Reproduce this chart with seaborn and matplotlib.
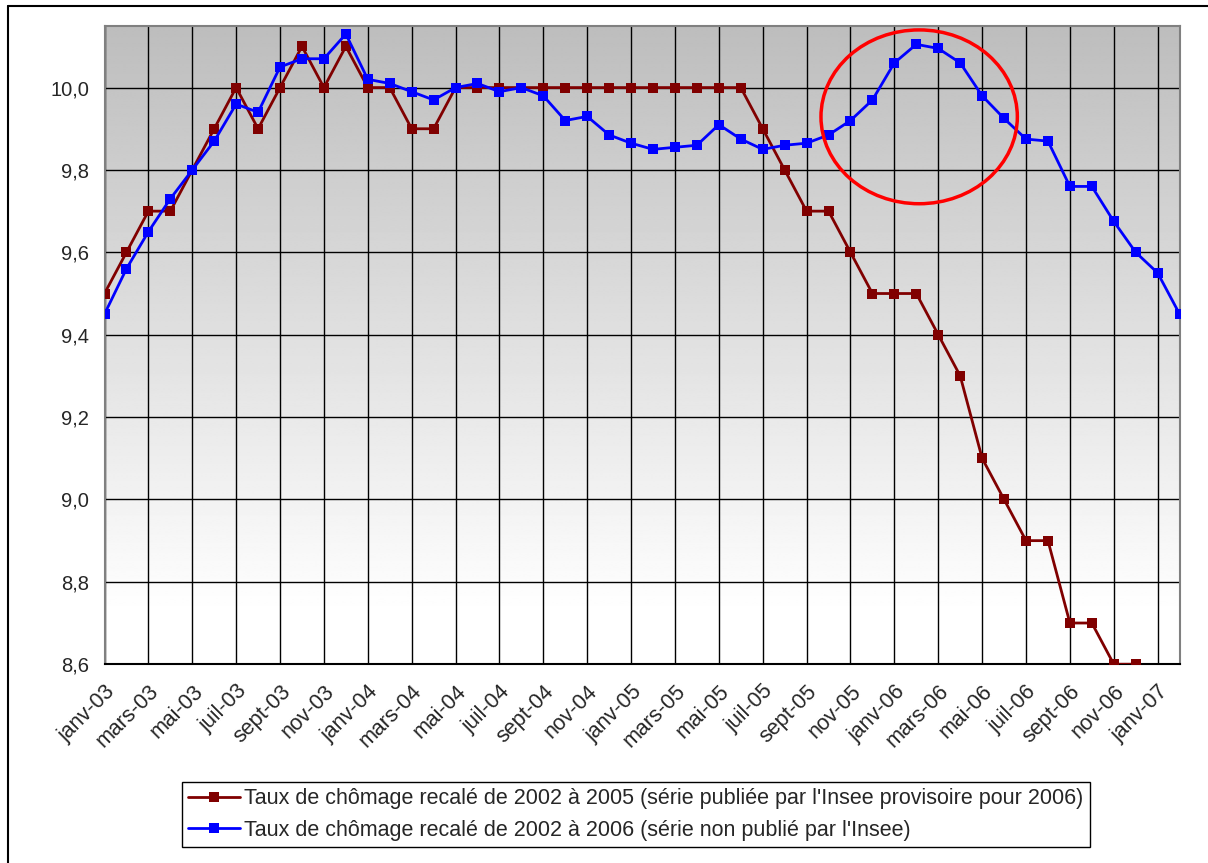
import numpy as np
import matplotlib
matplotlib.use("Agg")
import matplotlib.pyplot as plt
import pandas as pd
import seaborn as sns
from matplotlib.patches import Ellipse
from matplotlib.lines import Line2D

sns.set_style("white")
plt.rcParams['font.family'] = ['Liberation Sans', 'DejaVu Sans']

# mois de janv-03 a fevr-07
mois = pd.date_range("2003-01-01", "2007-02-01", freq="MS")
noms_mois = ['janv', 'févr', 'mars', 'avr', 'mai', 'juin',
             'juil', 'août', 'sept', 'oct', 'nov', 'déc']

# serie publiee (janv-03 a dec-06)
taux_2005 = [9.5, 9.6, 9.7, 9.7, 9.8, 9.9, 10.0, 9.9, 10.0, 10.1, 10.0, 10.1,
             10.0, 10.0, 9.9, 9.9, 10.0, 10.0, 10.0, 10.0, 10.0, 10.0, 10.0, 10.0,
             10.0, 10.0, 10.0, 10.0, 10.0, 10.0, 9.9, 9.8, 9.7, 9.7, 9.6, 9.5,
             9.5, 9.5, 9.4, 9.3, 9.1, 9.0, 8.9, 8.9, 8.7, 8.7, 8.6, 8.6]

# serie non publiee (janv-03 a fevr-07)
taux_2006 = [9.45, 9.56, 9.65, 9.73, 9.80, 9.87, 9.96, 9.94, 10.05, 10.07, 10.07, 10.13,
             10.02, 10.01, 9.99, 9.97, 10.00, 10.01, 9.99, 10.00, 9.98, 9.92, 9.93, 9.885,
             9.865, 9.85, 9.855, 9.86, 9.91, 9.875, 9.85, 9.86, 9.865, 9.885, 9.92, 9.97,
             10.06, 10.105, 10.095, 10.06, 9.98, 9.925, 9.875, 9.87, 9.76, 9.76, 9.675, 9.60,
             9.55, 9.45]

label_2005 = "Taux de chômage recalé de 2002 à 2005 (série publiée par l'Insee provisoire pour 2006)"
label_2006 = "Taux de chômage recalé de 2002 à 2006 (série non publié par l'Insee)"

x = np.arange(len(mois))
etiquettes = [f"{noms_mois[d.month - 1]}-{d.strftime('%y')}" for d in mois]

fig = plt.figure(figsize=(12.08, 8.63), dpi=100)
ax = fig.add_axes([104.5 / 1208, 1 - 664.2 / 863, (1179.6 - 104.5) / 1208, (664.2 - 25.8) / 863])

# fond degrade gris -> blanc
ymin, ymax = 8.6, 10.15
yy = np.linspace(ymax, ymin, 400)
shade = np.clip(189 + (ymax - yy) / (ymax - 8.72) * 66, 0, 255) / 255
grad = np.repeat(shade[:, None], 2, axis=1)
ax.imshow(grad, cmap='gray', vmin=0, vmax=1, aspect='auto',
          extent=[0, len(mois) - 1, ymin, ymax], zorder=0, interpolation='bilinear')

sns.lineplot(x=x[:len(taux_2005)], y=taux_2005, ax=ax, color='#800000', lw=2.0,
             marker='s', markersize=7.5, markeredgewidth=0, zorder=3)
sns.lineplot(x=x, y=taux_2006, ax=ax, color='#0000ff', lw=2.0,
             marker='s', markersize=7.5, markeredgewidth=0, zorder=4)

ax.add_patch(Ellipse((37.13, 9.929), 8.95, 0.422, fill=False, ec='#ff0000', lw=2.5, zorder=5))

ax.set_xlim(0, len(mois) - 1)
ax.set_ylim(ymin, ymax)
ax.set_xticks(x[::2])
ax.set_xticklabels(etiquettes[::2], rotation=45, ha='right', rotation_mode='anchor', fontsize=15.5)
yt = np.arange(8.6, 10.01, 0.2)
ax.set_yticks(yt)
ax.set_yticklabels([f"{v:.1f}".replace('.', ',') for v in yt], fontsize=14.5)
ax.tick_params(axis='both', direction='out', length=5, width=1, color='black')
ax.tick_params(axis='y', pad=6)
ax.tick_params(axis='x', pad=7)

for v in x[::2]:
    ax.axvline(v, color='black', lw=1, zorder=1)
for v in yt:
    ax.axhline(v, color='black', lw=1, zorder=1)
for s in ax.spines.values():
    s.set_color('#808080')
    s.set_linewidth(1.5)
ax.spines['bottom'].set_color('black')

handles = [Line2D([], [], color='#800000', lw=2, marker='s', markersize=7.5, markeredgewidth=0),
           Line2D([], [], color='#0000ff', lw=2, marker='s', markersize=7.5, markeredgewidth=0)]
leg = fig.legend(handles, [label_2005, label_2006], loc='center',
                 bbox_to_anchor=(636 / 1208, 1 - 814.5 / 863), fontsize=15.5,
                 frameon=True, fancybox=False, framealpha=1, edgecolor='black',
                 handlelength=2.4, handletextpad=0.2, borderpad=0.3, labelspacing=0.5,
                 borderaxespad=0)
leg.get_frame().set_linewidth(1)

# cadre du graphique
fig.add_artist(Line2D([8 / 1208, 1], [1 - 6 / 863, 1 - 6 / 863], color='black', lw=1.5))
fig.add_artist(Line2D([8 / 1208, 8 / 1208], [0, 1 - 6 / 863], color='black', lw=1.5))

fig.savefig("out.png", dpi=100)
